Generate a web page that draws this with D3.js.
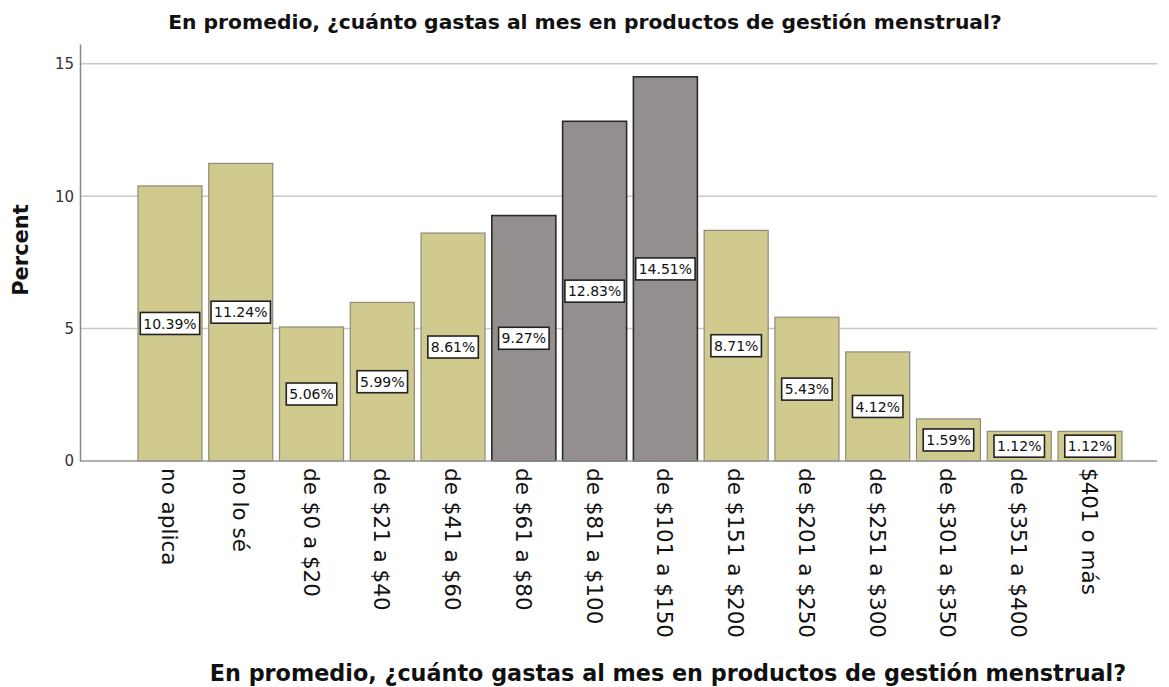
<!DOCTYPE html>
<html>
<head>
<meta charset="utf-8">
<script src="https://cdn.jsdelivr.net/npm/d3@7"></script>
<style>
  html, body { margin: 0; padding: 0; background: #fff; }
  svg { display: block; }
</style>
</head>
<body>
<svg id="chart" width="1169" height="687"></svg>
<script>
const categories = ["no aplica", "no lo sé", "de $0 a $20", "de $21 a $40", "de $41 a $60", "de $61 a $80", "de $81 a $100", "de $101 a $150", "de $151 a $200", "de $201 a $250", "de $251 a $300", "de $301 a $350", "de $351 a $400", "$401 o más"];
const percents = [10.39, 11.24, 5.06, 5.99, 8.61, 9.27, 12.83, 14.51, 8.71, 5.43, 4.12, 1.59, 1.12, 1.12];
const highlighted = [false, false, false, false, false, true, true, true, false, false, false, false, false, false];
const yTicks = [0, 5, 10, 15];
const title = "En promedio, ¿cuánto gastas al mes en productos de gestión menstrual?";
const yTitle = "Percent";

const svg = d3.select("#chart");
const font = "'DejaVu Sans', 'Liberation Sans', sans-serif";

const plotLeft = 80, plotRight = 1157, plotTop = 44, plotBottom = 461;

const x = d3.scaleBand()
  .domain(categories)
  .range([134.6, 1125.4])
  .paddingInner(0.0957)
  .paddingOuter(0.0478);

const y = d3.scaleLinear().domain([0, 15.75]).range([plotBottom, plotTop]);

// gridlines
svg.append("g").selectAll("line")
  .data(yTicks.filter(d => d > 0))
  .join("line")
  .attr("x1", plotLeft).attr("x2", plotRight)
  .attr("y1", d => y(d)).attr("y2", d => y(d))
  .attr("stroke", "#c8c8c8").attr("stroke-width", 1.5);

// y axis
const yAxis = d3.axisLeft(y).tickValues(yTicks).tickSize(0).tickPadding(6);
const yg = svg.append("g").attr("transform", `translate(${plotLeft},0)`).call(yAxis);
yg.select(".domain").attr("stroke", "#888").attr("stroke-width", 1.5);
yg.selectAll("text").attr("font-family", font).attr("font-size", 15).attr("fill", "#333");

// bars
const data = categories.map((c, i) => ({ c, v: percents[i], h: highlighted[i] }));
svg.append("g").selectAll("rect")
  .data(data)
  .join("rect")
  .attr("x", d => x(d.c))
  .attr("y", d => y(d.v))
  .attr("width", x.bandwidth())
  .attr("height", d => y(0) - y(d.v))
  .attr("fill", d => d.h ? "#948f8e" : "#d0ca8e")
  .attr("stroke", d => d.h ? "#2a2a2a" : "#8e8a78")
  .attr("stroke-width", d => d.h ? 1.6 : 1.2);

// x axis line
svg.append("line")
  .attr("x1", plotLeft).attr("x2", plotRight)
  .attr("y1", y(0)).attr("y2", y(0))
  .attr("stroke", "#999").attr("stroke-width", 1.5);

// value labels
const lab = svg.append("g").selectAll("g")
  .data(data)
  .join("g")
  .attr("transform", d => `translate(${x(d.c) + x.bandwidth() / 2},${y(d.v / 2)})`);
lab.append("text")
  .attr("text-anchor", "middle")
  .attr("dy", "0.36em")
  .attr("font-family", font)
  .attr("font-size", 14)
  .attr("fill", "#111")
  .text(d => d.v.toFixed(2) + "%");
lab.each(function() {
  const g = d3.select(this);
  const bb = g.select("text").node().getBBox();
  g.insert("rect", "text")
    .attr("x", bb.x - 3).attr("y", -11)
    .attr("width", bb.width + 6).attr("height", 22)
    .attr("fill", "#fff").attr("stroke", "#222").attr("stroke-width", 1.6);
});

// x tick labels (rotated)
svg.append("g").selectAll("text")
  .data(categories)
  .join("text")
  .attr("transform", d => `translate(${x(d) + x.bandwidth() / 2 - 8},${468}) rotate(90)`)
  .attr("text-anchor", "start")
  .attr("font-family", font)
  .attr("font-size", 21.5)
  .attr("fill", "#111")
  .text(d => d);

// titles
svg.append("text")
  .attr("x", 585).attr("y", 29)
  .attr("text-anchor", "middle")
  .attr("font-family", font).attr("font-weight", "bold")
  .attr("font-size", 20.3).attr("fill", "#111")
  .text(title);

svg.append("text")
  .attr("x", 668).attr("y", 681)
  .attr("text-anchor", "middle")
  .attr("font-family", font).attr("font-weight", "bold")
  .attr("font-size", 22.3).attr("fill", "#111")
  .text(title);

svg.append("text")
  .attr("transform", `translate(28,250) rotate(-90)`)
  .attr("text-anchor", "middle")
  .attr("font-family", font).attr("font-weight", "bold")
  .attr("font-size", 21).attr("fill", "#111")
  .text(yTitle);
</script>
</body>
</html>
